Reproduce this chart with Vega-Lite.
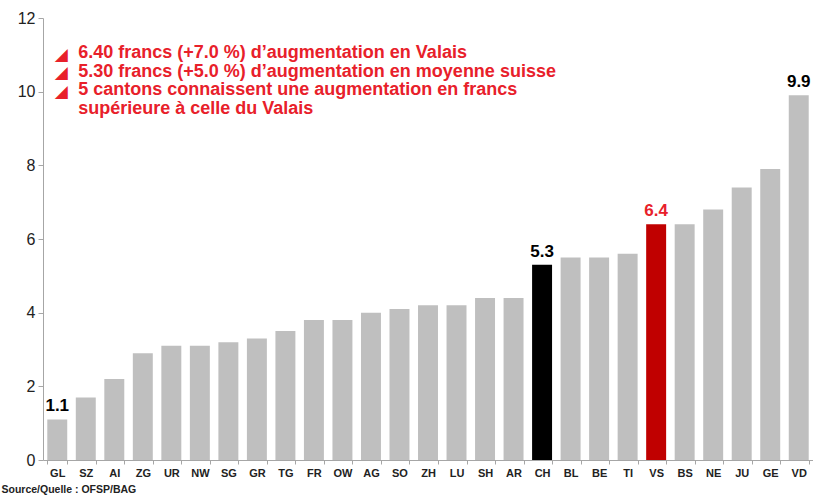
{
  "$schema": "https://vega.github.io/schema/vega-lite/v6.json",
  "width": 770,
  "height": 442,
  "autosize": {"type": "none"},
  "padding": {"left": 43, "top": 18, "right": 0, "bottom": 40},
  "background": "white",
  "config": {"view": {"stroke": null}, "font": "Liberation Sans"},
  "data": {
    "values": [
      {"canton": "GL", "value": 1.1},
      {"canton": "SZ", "value": 1.7},
      {"canton": "AI", "value": 2.2},
      {"canton": "ZG", "value": 2.9},
      {"canton": "UR", "value": 3.1},
      {"canton": "NW", "value": 3.1},
      {"canton": "SG", "value": 3.2},
      {"canton": "GR", "value": 3.3},
      {"canton": "TG", "value": 3.5},
      {"canton": "FR", "value": 3.8},
      {"canton": "OW", "value": 3.8},
      {"canton": "AG", "value": 4.0},
      {"canton": "SO", "value": 4.1},
      {"canton": "ZH", "value": 4.2},
      {"canton": "LU", "value": 4.2},
      {"canton": "SH", "value": 4.4},
      {"canton": "AR", "value": 4.4},
      {"canton": "CH", "value": 5.3},
      {"canton": "BL", "value": 5.5},
      {"canton": "BE", "value": 5.5},
      {"canton": "TI", "value": 5.6},
      {"canton": "VS", "value": 6.4},
      {"canton": "BS", "value": 6.4},
      {"canton": "NE", "value": 6.8},
      {"canton": "JU", "value": 7.4},
      {"canton": "GE", "value": 7.9},
      {"canton": "VD", "value": 9.9}
    ]
  },
  "layer": [
    {
      "mark": {"type": "bar"},
      "encoding": {
        "x": {
          "field": "canton",
          "type": "nominal",
          "sort": null,
          "scale": {"paddingInner": 0.3, "paddingOuter": 0.15},
          "axis": {
            "title": "Source/Quelle : OFSP/BAG",
            "titleFont": "Liberation Sans",
            "titleFontSize": 10.5,
            "titleFontWeight": "bold",
            "titleAnchor": "start",
            "titleAlign": "left",
            "titleX": -42,
            "titleY": 29,
            "titleBaseline": "middle",
            "titleColor": "#222",
            "labelAngle": 0,
            "labelFontWeight": "bold",
            "labelFontSize": 11,
            "labelColor": "#222",
            "labelPadding": 3,
            "tickBand": "extent",
            "tickSize": 4,
            "tickColor": "#a6a6a6",
            "domainColor": "#a6a6a6"
          }
        },
        "y": {
          "field": "value",
          "type": "quantitative",
          "scale": {"domain": [0, 12]},
          "axis": {
            "title": null,
            "values": [0, 2, 4, 6, 8, 10, 12],
            "grid": false,
            "labelFontSize": 16,
            "labelColor": "#222",
            "labelPadding": 3,
            "tickSize": 5,
            "tickColor": "#a6a6a6",
            "domainColor": "#a6a6a6"
          }
        },
        "color": {
          "condition": [
            {"test": "datum.canton === 'CH'", "value": "#000000"},
            {"test": "datum.canton === 'VS'", "value": "#c00000"}
          ],
          "value": "#bfbfbf"
        }
      }
    },
    {
      "transform": [{"filter": "indexof(['GL','CH','VS','VD'], datum.canton) >= 0"}],
      "mark": {"type": "text", "fontSize": 17, "fontWeight": "bold", "baseline": "alphabetic", "dy": -8},
      "encoding": {
        "x": {"field": "canton", "type": "nominal", "sort": null},
        "y": {"field": "value", "type": "quantitative"},
        "text": {"field": "value", "type": "quantitative", "format": ".1f"},
        "color": {
          "condition": {"test": "datum.canton === 'VS'", "value": "#e8202a"},
          "value": "#000000"
        }
      }
    },
    {
      "data": {"values": [{}]},
      "mark": {
        "type": "text",
        "text": [
          "6.40 francs (+7.0 %) d’augmentation en Valais",
          "5.30 francs (+5.0 %) d’augmentation en moyenne suisse",
          "5 cantons connaissent une augmentation en francs",
          "supérieure à celle du Valais"
        ],
        "align": "left",
        "baseline": "alphabetic",
        "fontSize": 18,
        "fontWeight": "bold",
        "lineHeight": 18.8,
        "color": "#e8202a",
        "dx": 21
      },
      "encoding": {
        "x": {"datum": "GL", "type": "nominal"},
        "y": {"datum": 10.92, "type": "quantitative"}
      }
    },
    {
      "data": {"values": [{}]},
      "mark": {
        "type": "text",
        "text": ["◢", "◢", "◢"],
        "align": "center",
        "baseline": "alphabetic",
        "font": "DejaVu Sans",
        "fontSize": 17,
        "lineHeight": 18.8,
        "color": "#e8202a",
        "dx": 4
      },
      "encoding": {
        "x": {"datum": "GL", "type": "nominal"},
        "y": {"datum": 10.87, "type": "quantitative"}
      }
    }
  ]
}
